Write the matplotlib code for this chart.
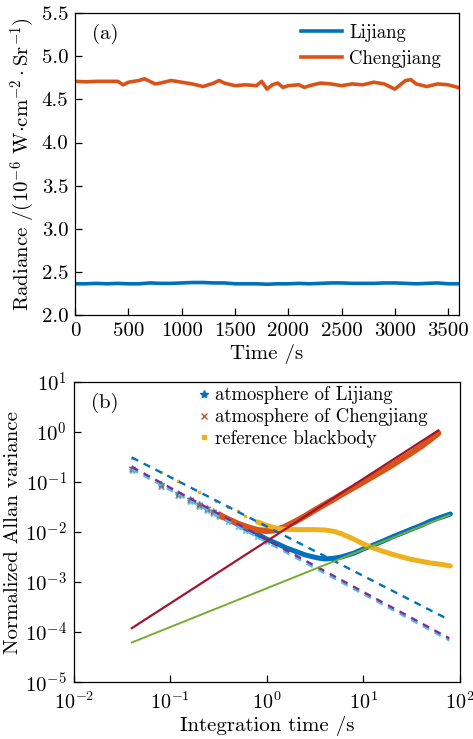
import matplotlib
matplotlib.use("Agg")
import math
import matplotlib.pyplot as plt
from matplotlib.ticker import FixedLocator, FuncFormatter, NullLocator
from matplotlib.lines import Line2D

plt.rcParams['font.family'] = ['cmr10', 'DejaVu Serif']
plt.rcParams['mathtext.fontset'] = 'cm'
plt.rcParams['axes.unicode_minus'] = False
plt.rcParams['axes.formatter.use_mathtext'] = True

# ---------------- panel (a) data ----------------
time_lij = [0, 100, 200, 300, 400, 500, 600, 700, 800, 900, 1000, 1100, 1200, 1300,
            1400, 1500, 1600, 1700, 1800, 1900, 2000, 2100, 2200, 2300, 2400, 2500,
            2600, 2700, 2800, 2900, 3000, 3100, 3200, 3300, 3400, 3500, 3600]
rad_lij = [2.36, 2.36, 2.365, 2.36, 2.365, 2.36, 2.36, 2.37, 2.365, 2.365, 2.37, 2.375,
           2.375, 2.37, 2.37, 2.36, 2.36, 2.36, 2.355, 2.36, 2.36, 2.365, 2.36, 2.365,
           2.37, 2.37, 2.365, 2.365, 2.365, 2.37, 2.37, 2.365, 2.36, 2.365, 2.37, 2.36, 2.36]

time_cheng = [0, 100, 200, 300, 400, 450, 500, 600, 650, 700, 750, 800, 900, 1000, 1100,
              1200, 1300, 1350, 1400, 1500, 1600, 1700, 1750, 1800, 1850, 1900, 1950,
              2000, 2100, 2150, 2200, 2300, 2400, 2500, 2600, 2700, 2800, 2900, 3000,
              3100, 3150, 3200, 3300, 3400, 3500, 3590]
rad_cheng = [4.71, 4.705, 4.71, 4.71, 4.71, 4.67, 4.70, 4.72, 4.74, 4.71, 4.68, 4.69,
             4.72, 4.70, 4.68, 4.65, 4.69, 4.72, 4.69, 4.66, 4.67, 4.66, 4.71, 4.62,
             4.67, 4.69, 4.64, 4.66, 4.67, 4.64, 4.66, 4.69, 4.68, 4.66, 4.68, 4.67,
             4.70, 4.68, 4.62, 4.72, 4.73, 4.68, 4.65, 4.68, 4.67, 4.64]

# ---------------- panel (b) data ----------------
tau_lij = [0.04, 0.08, 0.12, 0.16, 0.2, 0.24, 0.28, 0.32, 0.4, 0.5, 0.6, 0.8, 1.0, 1.3,
           1.6, 2.0, 2.5, 3.0, 3.5, 4.0, 5.0, 6.0, 8.0, 10, 13, 16, 20, 25, 30, 40, 50,
           60, 70, 80]
av_lij = [0.19, 0.092, 0.060, 0.045, 0.036, 0.030, 0.026, 0.0225, 0.018, 0.0145, 0.012,
          0.0092, 0.0072, 0.0058, 0.0048, 0.0041, 0.0035, 0.0032, 0.0030, 0.0029, 0.0030,
          0.0032, 0.0038, 0.0046, 0.0056, 0.0066, 0.0080, 0.0095, 0.011, 0.0137, 0.0167,
          0.019, 0.021, 0.023]

tau_cheng = [0.04, 0.08, 0.12, 0.16, 0.2, 0.24, 0.28, 0.32, 0.4, 0.5, 0.6, 0.7, 0.8, 1.0,
             1.2, 1.5, 2.0, 2.5, 3.0, 4.0, 5.0, 6.0, 8.0, 10, 13, 16, 20, 25, 30, 40, 50, 60]
av_cheng = [0.185, 0.085, 0.056, 0.043, 0.035, 0.029, 0.025, 0.022, 0.018, 0.0148, 0.013,
            0.0118, 0.0110, 0.0105, 0.0108, 0.0125, 0.0165, 0.021, 0.026, 0.036, 0.046,
            0.057, 0.078, 0.10, 0.135, 0.17, 0.22, 0.29, 0.36, 0.52, 0.72, 0.95]

tau_bb = [0.04, 0.08, 0.12, 0.2, 0.3, 0.4, 0.5, 0.6, 0.8, 1.0, 1.3, 1.6, 2.0, 3.0, 4.0,
          5.0, 6.0, 8.0, 10, 12, 15, 20, 25, 30, 40, 50, 60, 70, 80]
av_bb = [0.31, 0.16, 0.105, 0.064, 0.042, 0.032, 0.026, 0.021, 0.016, 0.0135, 0.0118,
         0.0113, 0.0112, 0.0112, 0.0110, 0.0103, 0.0092, 0.0072, 0.0058, 0.0050, 0.0043,
         0.0036, 0.0032, 0.0029, 0.0026, 0.0024, 0.0023, 0.0022, 0.0021]

tau_cyan = [0.04, 0.08, 0.12, 0.16, 0.2, 0.24, 0.28, 0.32, 0.4, 0.5, 0.6, 0.8, 1.0]
av_cyan = [0.175, 0.085, 0.056, 0.042, 0.033, 0.028, 0.024, 0.021, 0.0165, 0.013, 0.011,
           0.0082, 0.0065]

# fitted lines (end points)
fit_tau = [0.04, 78]
fit_blue = [0.31, 1.75e-4]
fit_purple = [0.20, 7.5e-5]
fit_cyan = [0.18, 6.8e-5]
fit_red_tau = [0.04, 60]
fit_red = [1.2e-4, 1.08]
fit_green = [6.2e-5, 0.022]

C_BLUE = '#0072BD'
C_ORANGE = '#D95319'
C_YELLOW = '#EDB120'
C_PURPLE = '#7E2F8E'
C_GREEN = '#77AC30'
C_CYAN = '#4DBEEE'
C_RED = '#A2142F'

FS = 15

fig = plt.figure(figsize=(4.73, 7.39), dpi=100)

# ---------------- panel (a) ----------------
ax1 = fig.add_axes([0.159, 0.574, 0.811, 0.408])
ax1.plot(time_lij, rad_lij, color=C_BLUE, lw=2.6, label='Lijiang')
ax1.plot(time_cheng, rad_cheng, color=C_ORANGE, lw=2.6, label='Chengjiang')
ax1.set_xlim(0, 3600)
ax1.set_ylim(2.0, 5.5)
ax1.xaxis.set_major_locator(FixedLocator([0, 500, 1000, 1500, 2000, 2500, 3000, 3500]))
ax1.yaxis.set_major_locator(FixedLocator([2.0, 2.5, 3.0, 3.5, 4.0, 4.5, 5.0, 5.5]))
ax1.xaxis.set_major_formatter(FuncFormatter(lambda v, p: '%d' % v))
ax1.yaxis.set_major_formatter(FuncFormatter(lambda v, p: '%.1f' % v))
ax1.tick_params(direction='in', length=5, width=0.9, labelsize=FS, pad=5)
ax1.set_xlabel('Time /s', fontsize=FS, labelpad=3)
ax1.set_ylabel(r'Radiance /(10$^{-6}$ W$\cdot$cm$^{-2}\cdot$Sr$^{-1}$)', fontsize=FS, labelpad=3)
ax1.text(0.045, 0.93, '(a)', transform=ax1.transAxes, fontsize=FS, va='center', ha='left')
ax1.legend(loc='upper right', bbox_to_anchor=(0.998, 1.022), frameon=False,
           fontsize=13.5, handlelength=2.2, handletextpad=0.4, labelspacing=0.45)
for sp in ax1.spines.values():
    sp.set_linewidth(0.9)

# ---------------- panel (b) ----------------
ax2 = fig.add_axes([0.156, 0.077, 0.816, 0.406])
ax2.set_xscale('log')
ax2.set_yscale('log')

k = 8
ax2.plot(tau_cyan, av_cyan, ls='none', marker='*', ms=5, color=C_CYAN, alpha=0.8)
ax2.plot(tau_lij[:k], av_lij[:k], ls='none', marker='*', ms=5, color=C_BLUE, alpha=0.6)
ax2.plot(tau_lij[k - 1:], av_lij[k - 1:], color=C_BLUE, lw=3.6, solid_capstyle='round')
ax2.plot(tau_cheng[:k], av_cheng[:k], ls='none', marker='x', ms=4, color=C_ORANGE, alpha=0.6)
ax2.plot(tau_cheng[k - 1:], av_cheng[k - 1:], color=C_ORANGE, lw=4.4, solid_capstyle='round')
ax2.plot(tau_bb[:9], av_bb[:9], ls='none', marker='s', ms=1.8, color=C_YELLOW)
ax2.plot(tau_bb[8:], av_bb[8:], color=C_YELLOW, lw=3.6, solid_capstyle='round')

ax2.plot(fit_tau, fit_cyan, color=C_CYAN, lw=1.7, dashes=(3, 2.6))
ax2.plot(fit_tau, fit_purple, color=C_PURPLE, lw=1.7, dashes=(3, 2.6))
ax2.plot(fit_tau, fit_blue, color=C_BLUE, lw=1.7, dashes=(3, 2.6))
ax2.plot(fit_red_tau, fit_red, color=C_RED, lw=1.6)
ax2.plot(fit_tau, fit_green, color=C_GREEN, lw=1.4)

ax2.set_xlim(1e-2, 1e2)
ax2.set_ylim(1e-5, 1e1)
ax2.xaxis.set_major_locator(FixedLocator([1e-2, 1e-1, 1e0, 1e1, 1e2]))
ax2.yaxis.set_major_locator(FixedLocator([1e-5, 1e-4, 1e-3, 1e-2, 1e-1, 1e0, 1e1]))
ax2.xaxis.set_minor_locator(NullLocator())
ax2.yaxis.set_minor_locator(NullLocator())
fmt = FuncFormatter(lambda v, p: r'$10^{%d}$' % int(round(math.log10(v))))
ax2.xaxis.set_major_formatter(fmt)
ax2.yaxis.set_major_formatter(fmt)
ax2.tick_params(axis='y', direction='in', length=5, width=0.9, labelsize=15, pad=5)
ax2.tick_params(axis='x', direction='in', length=5, width=0.9, labelsize=14.5, pad=7)
ax2.set_xlabel('Integration time /s', fontsize=FS, labelpad=2)
ax2.set_ylabel('Normalized Allan variance', fontsize=FS, labelpad=2)
ax2.text(0.045, 0.93, '(b)', transform=ax2.transAxes, fontsize=FS, va='center', ha='left')
handles = [
    Line2D([], [], ls='none', marker='*', ms=6, color=C_BLUE),
    Line2D([], [], ls='none', marker='x', ms=5, color=C_ORANGE),
    Line2D([], [], ls='none', marker='s', ms=3, color=C_YELLOW),
]
ax2.legend(handles, ['atmosphere of Lijiang', 'atmosphere of Chengjiang', 'reference blackbody'],
           loc='upper left', bbox_to_anchor=(0.295, 1.023), frameon=False, fontsize=13.5,
           handlelength=0.5, handletextpad=0.35, labelspacing=0.2, borderaxespad=0.2)
for sp in ax2.spines.values():
    sp.set_linewidth(0.9)

fig.savefig('out.png', dpi=100)
